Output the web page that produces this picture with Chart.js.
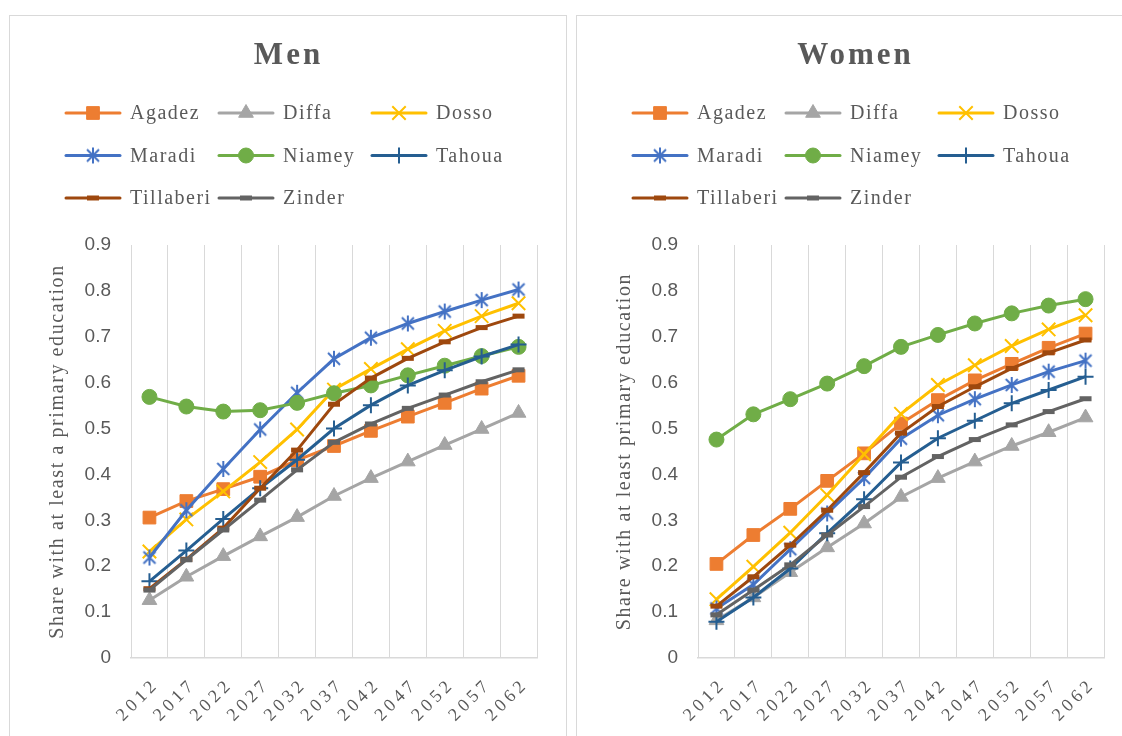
<!DOCTYPE html>
<html>
<head>
<meta charset="utf-8">
<script src="https://cdn.jsdelivr.net/npm/chart.js@4.4.1/dist/chart.umd.min.js"></script>
<style>
  html, body { margin: 0; padding: 0; width: 1122px; height: 736px; overflow: hidden; background: #fff; }
  .panel { position: absolute; top: 15px; width: 558px; height: 740px; border: 1px solid #d9d9d9; box-sizing: border-box; background: #fff; }
  .panel canvas { position: absolute; left: 0; top: 0; }
</style>
</head>
<body>
<div class="panel" style="left:9px"><canvas id="menChart" width="556" height="720"></canvas></div>
<div class="panel" style="left:576px"><canvas id="womenChart" width="556" height="720"></canvas></div>
<script>
// Projection years (x categories)
const years = ['2012', '2017', '2022', '2027', '2032', '2037', '2042', '2047', '2052', '2057', '2062'];

// Share of men with at least a primary education, by region
const menAgadez    = [0.306, 0.342, 0.368, 0.395, 0.431, 0.462, 0.495, 0.526, 0.556, 0.587, 0.615];
const menDiffa     = [0.126, 0.177, 0.222, 0.265, 0.307, 0.353, 0.392, 0.428, 0.464, 0.499, 0.534];
const menDosso     = [0.232, 0.302, 0.363, 0.427, 0.498, 0.585, 0.630, 0.673, 0.713, 0.745, 0.773];
const menMaradi    = [0.219, 0.322, 0.412, 0.498, 0.578, 0.652, 0.698, 0.729, 0.755, 0.780, 0.803];
const menNiamey    = [0.569, 0.548, 0.537, 0.540, 0.556, 0.577, 0.594, 0.616, 0.637, 0.658, 0.678];
const menTahoua    = [0.167, 0.234, 0.303, 0.370, 0.432, 0.500, 0.551, 0.594, 0.627, 0.657, 0.683];
const menTillaberi = [0.151, 0.215, 0.283, 0.370, 0.453, 0.553, 0.610, 0.653, 0.689, 0.720, 0.745];
const menZinder    = [0.148, 0.214, 0.279, 0.344, 0.410, 0.470, 0.510, 0.544, 0.573, 0.602, 0.628];

// Share of women with at least primary education, by region
const womenAgadez    = [0.205, 0.268, 0.325, 0.386, 0.446, 0.511, 0.562, 0.605, 0.641, 0.676, 0.707];
const womenDiffa     = [0.082, 0.132, 0.187, 0.241, 0.293, 0.351, 0.392, 0.428, 0.462, 0.492, 0.524];
const womenDosso     = [0.128, 0.199, 0.273, 0.355, 0.444, 0.532, 0.595, 0.638, 0.680, 0.716, 0.747];
const womenMaradi    = [0.108, 0.160, 0.237, 0.315, 0.392, 0.478, 0.529, 0.564, 0.595, 0.624, 0.648];
const womenNiamey    = [0.476, 0.531, 0.564, 0.598, 0.636, 0.678, 0.704, 0.729, 0.751, 0.768, 0.782];
const womenTahoua    = [0.079, 0.132, 0.195, 0.272, 0.346, 0.426, 0.479, 0.517, 0.555, 0.584, 0.613];
const womenTillaberi = [0.113, 0.177, 0.246, 0.322, 0.404, 0.490, 0.548, 0.591, 0.631, 0.665, 0.693];
const womenZinder    = [0.094, 0.148, 0.203, 0.268, 0.330, 0.394, 0.439, 0.476, 0.508, 0.537, 0.565];

const regions = ['Agadez', 'Diffa', 'Dosso', 'Maradi', 'Niamey', 'Tahoua', 'Tillaberi', 'Zinder'];

const TEXT = '#595959';
const GRID = '#d9d9d9';

// Six-armed star marker (X with a vertical bar)
function starMarker(color) {
  const c = document.createElement('canvas');
  c.width = 18; c.height = 18;
  const g = c.getContext('2d');
  g.strokeStyle = color; g.lineWidth = 2; g.lineCap = 'butt';
  g.beginPath();
  g.moveTo(3, 3); g.lineTo(15, 15);
  g.moveTo(15, 3); g.lineTo(3, 15);
  g.moveTo(9, 1); g.lineTo(9, 17);
  g.stroke();
  return c;
}

// Line and marker look of each region
const looks = {
  Agadez:    { color: '#ED7D31', pointStyle: 'rect',     radius: 9,   border: 1 },
  Diffa:     { color: '#A5A5A5', pointStyle: 'triangle', radius: 8.5, border: 1 },
  Dosso:     { color: '#FFC000', pointStyle: 'crossRot', radius: 9.5, border: 2 },
  Maradi:    { color: '#4472C4', pointStyle: starMarker('#4472C4'), radius: 9, border: 2 },
  Niamey:    { color: '#70AD47', pointStyle: 'circle',   radius: 7.5, border: 1 },
  Tahoua:    { color: '#255E91', pointStyle: 'cross',    radius: 8,   border: 2 },
  Tillaberi: { color: '#9E480E', pointStyle: 'line',     radius: 6,   border: 5 },
  Zinder:    { color: '#636363', pointStyle: 'line',     radius: 6,   border: 5 }
};

function makeDatasets(seriesList) {
  return regions.map((name, i) => {
    const l = looks[name];
    return {
      label: name,
      data: seriesList[i],
      borderColor: l.color,
      backgroundColor: l.color,
      borderWidth: 3,
      tension: 0,
      pointStyle: l.pointStyle,
      pointRadius: l.radius,
      pointHoverRadius: l.radius,
      pointBackgroundColor: l.color,
      pointBorderColor: l.color,
      pointBorderWidth: l.border,
      order: regions.length - i
    };
  });
}

// Category axis whose rotated labels use wider character spacing
class SpacedCategoryScale extends Chart.CategoryScale {
  drawLabels(area) {
    const ctx = this.ctx;
    ctx.save();
    ctx.letterSpacing = '4px';
    ctx.translate(7, 0);
    super.drawLabels(area);
    ctx.restore();
  }
}
SpacedCategoryScale.id = 'spacedCategory';

// Linear axis whose title uses wider character spacing
class SpacedLinearScale extends Chart.LinearScale {
  drawTitle() {
    const ctx = this.ctx;
    ctx.save();
    ctx.letterSpacing = '1.6px';
    super.drawTitle();
    ctx.restore();
  }
}
SpacedLinearScale.id = 'spacedLinear';

Chart.register(SpacedCategoryScale, SpacedLinearScale);

// Panel heading and three-column legend
const panelHead = {
  id: 'panelHead',
  afterDraw(chart, args, opts) {
    const ctx = chart.ctx;
    ctx.save();
    ctx.fillStyle = TEXT;
    ctx.textBaseline = 'middle';
    ctx.textAlign = 'center';
    ctx.font = 'bold 31px "Liberation Serif"';
    ctx.letterSpacing = '3px';
    ctx.fillText(opts.text, opts.titleX + 1.5, opts.titleY);

    ctx.font = '20px "Liberation Serif"';
    ctx.letterSpacing = '1.5px';
    ctx.textAlign = 'left';
    chart.data.datasets.forEach((ds, i) => {
      const col = i % 3;
      const row = Math.floor(i / 3);
      const x0 = opts.legendX + col * opts.colGap;
      const y = opts.legendY + row * opts.rowGap;
      ctx.strokeStyle = ds.borderColor;
      ctx.lineWidth = 3;
      ctx.lineCap = 'round';
      ctx.beginPath();
      ctx.moveTo(x0, y);
      ctx.lineTo(x0 + 54, y);
      ctx.stroke();
      ctx.lineCap = 'butt';
      ctx.fillStyle = ds.pointBackgroundColor;
      ctx.strokeStyle = ds.pointBorderColor;
      ctx.lineWidth = ds.pointBorderWidth;
      Chart.helpers.drawPoint(ctx, {
        pointStyle: ds.pointStyle, radius: ds.pointRadius, rotation: 0, borderWidth: ds.pointBorderWidth
      }, x0 + 27, y);
      ctx.fillStyle = TEXT;
      ctx.fillText(ds.label, x0 + 64, y + 1);
    });
    ctx.restore();
  }
};

function buildChart(id, heading, yTitle, seriesList) {
  return new Chart(document.getElementById(id), {
    type: 'line',
    data: { labels: years, datasets: makeDatasets(seriesList) },
    options: {
      responsive: false,
      animation: false,
      devicePixelRatio: 1,
      layout: { padding: { top: 229, right: 29, left: 0, bottom: 0 } },
      plugins: {
        legend: { display: false },
        tooltip: { enabled: false },
        panelHead: { text: heading, titleX: 277, titleY: 40, legendX: 56, legendY: 97, colGap: 153, rowGap: 42.5 }
      },
      scales: {
        x: {
          type: 'spacedCategory',
          offset: true,
          grid: { offset: true, color: GRID, lineWidth: 1, drawTicks: false },
          border: { color: GRID, width: 1.5 },
          ticks: {
            autoSkip: false, minRotation: 45, maxRotation: 45, padding: 16,
            color: TEXT, font: { family: '"Liberation Serif"', size: 18 }
          },
          afterFit(scale) { scale.height = 78; }
        },
        y: {
          type: 'spacedLinear',
          min: 0, max: 0.9,
          grid: { display: false, drawTicks: false },
          border: { display: false },
          ticks: {
            stepSize: 0.1, padding: 20, color: TEXT,
            font: { family: '"Liberation Sans"', size: 19 },
            callback: (v) => (Math.abs(v) < 1e-9 ? '0' : v.toFixed(1))
          },
          title: {
            display: true, text: yTitle, color: TEXT,
            font: { family: '"Liberation Serif"', size: 20 },
            padding: { top: 36, bottom: 0 }
          },
          afterFit(scale) { scale.width = 121; }
        }
      }
    },
    plugins: [panelHead]
  });
}

buildChart('menChart', 'Men', 'Share with at least a primary education',
  [menAgadez, menDiffa, menDosso, menMaradi, menNiamey, menTahoua, menTillaberi, menZinder]);
buildChart('womenChart', 'Women', 'Share with at least primary education',
  [womenAgadez, womenDiffa, womenDosso, womenMaradi, womenNiamey, womenTahoua, womenTillaberi, womenZinder]);
</script>
</body>
</html>
